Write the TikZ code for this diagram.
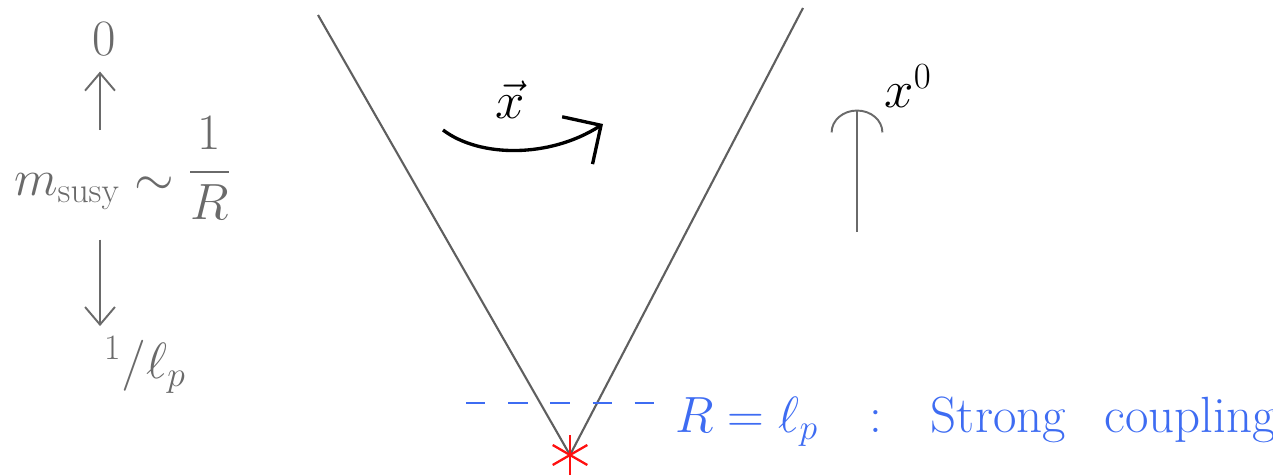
\RequirePackage{fix-cm}
\documentclass[tikz,border=0pt]{standalone}
\usepackage{amsmath}
\usepackage{xcolor}
\definecolor{cCone}{HTML}{5F5F5F}
\definecolor{cGray}{HTML}{6A6A6A}
\definecolor{cInk}{HTML}{000000}
\definecolor{cBlue}{HTML}{3E6CF2}
\definecolor{cRed}{HTML}{FF1010}
\usetikzlibrary{positioning,arrows.meta,calc}
\tikzset{
  line-cone/.style={draw=cCone,line width=1.2pt},
  line-dash/.style={draw=cBlue,line width=1.3pt,dash pattern=on 11pt off 13pt},
  line-spark/.style={draw=cRed,line width=1.3pt},
  arrow-gray/.style={-{Straight Barb[length=10pt,width=17pt]},line width=1.1pt,draw=cGray},
  arrow-time/.style={-{Arc Barb[length=13pt,width=30pt]},line width=1.1pt,draw=cGray},
  arrow-ink/.style={-{Straight Barb[length=16pt,width=32pt]},line width=1.9pt,draw=cInk},
  % labels: gray on the left, black for coordinates, blue for the note
  label-gray/.style={text=cGray,font=\fontsize{29}{35}\selectfont,inner sep=1pt},
  label-ink/.style={text=cInk,font=\fontsize{30}{36}\selectfont,inner sep=1pt},
  label-blue/.style={text=cBlue,font=\fontsize{29}{35}\selectfont,inner sep=0pt,anchor=base west},
}

\begin{document}
\begin{tikzpicture}[x=0.02cm,y=-0.02cm]
  \useasboundingbox (0,0) rectangle (1273,476);
  \coordinate (cone-left)  at (318,15);
  \coordinate (cone-right) at (803,8);
  \coordinate (apex)       at (570,455);
  \draw[line-cone] (cone-left) -- (apex) -- (cone-right);
  \foreach \ang in {30,90,150}
    \draw[line-spark] (apex) ++(\ang:20) -- ++(\ang+180:40);

  \node[label-gray] (zero) at (104,39) {$0$};
  \node[label-gray,anchor=base west] (msusy) at (12,195)
    {$m_{\mathrm{susy}} \sim \raisebox{6pt}{$\dfrac{1}{R}$}$};
  \node[label-gray] (lp) at (145,365) {$^1/\ell_p$};
  \draw[arrow-gray,shorten >=8pt] (zero |- msusy.north) ++(-4,15) -- ([xshift=-4*0.02cm]zero.south);
  \draw[arrow-gray] ([xshift=-4*0.02cm]zero |- msusy.south) ++(0,18) -- ([xshift=-4*0.02cm,yshift=5pt]zero |- lp.north);

  \node[label-ink] (xvec) at (510,100) {$\vec{x}$};
  \coordinate (turn-start) at (443,130);
  \coordinate (turn-end)   at (603,124);
  \draw[arrow-ink] (turn-start) .. controls (480,158) and (550,158) .. (turn-end);

  \node[label-ink] (x0) at (908,86) {$x^0$};
  \coordinate (time-start) at (857,232);
  \draw[arrow-time] (time-start) -- (time-start |- x0.south);

  \coordinate (dash-start) at (466,403);
  \coordinate (dash-end)   at (656,403);
  \draw[line-dash] (dash-start) -- (dash-end);
  \node[label-blue] (note) at (675,432)
    {$R=\ell_p$\hspace{29pt}:\hspace{28pt}Strong\hspace{22pt}coupling};
\end{tikzpicture}
\end{document}
